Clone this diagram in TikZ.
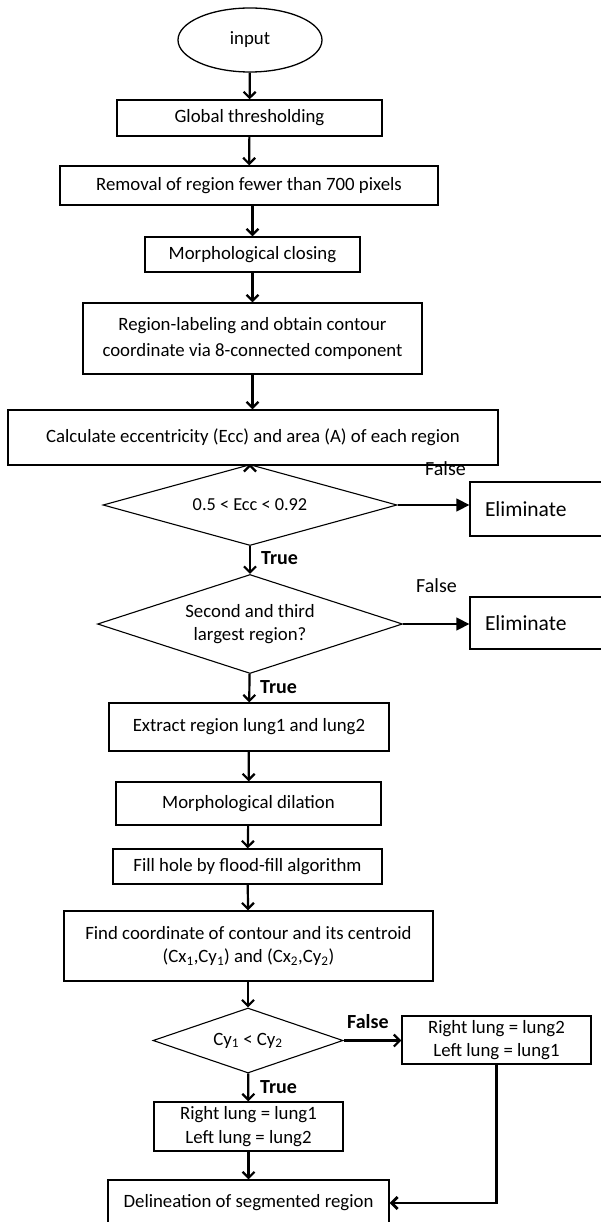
\documentclass[tikz,border=0pt]{standalone}
\usepackage{fontspec}
\setmainfont{Carlito}
\usetikzlibrary{arrows.meta,shapes.geometric}
\begin{document}
\begin{tikzpicture}[x=1pt,y=-1pt,
  every node/.style={inner sep=0pt, font=\fontsize{18.8}{23.5}\selectfont, align=center},
  proc/.style={draw, line width=1.3pt, rectangle},
  cond/.style={draw, line width=1.1pt, diamond, aspect=3.5},
  flow/.style={line width=2.2pt, -{Straight Barb[length=6pt,width=12pt,line width=2.2pt]}},
  reject/.style={line width=1.4pt, -{Triangle[length=13pt,width=13pt]}},
  elim/.style={proc, minimum width=150pt, font=\fontsize{21.5}{24}\selectfont, text width=128pt, align=left},
  tag/.style={font=\fontsize{20}{22}\selectfont, anchor=west},
  btag/.style={font=\fontsize{20}{22}\selectfont\bfseries, anchor=west}]
  \clip (0,0) rectangle (601,1222);

  % main column
  \node[draw, line width=1.3pt, ellipse, minimum width=144pt, minimum height=64pt] (inp) at (250,40) {input};
  \node[proc, minimum width=265pt, minimum height=36pt] (g) at (249.5,118) {Global thresholding};
  \node[proc, minimum width=378pt, minimum height=39pt] (rem) at (249,185.5) {Removal of region fewer than 700 pixels};
  \node[proc, minimum width=215pt, minimum height=35pt] (clos) at (252.5,254.5) {Morphological closing};
  \node[proc, minimum width=339pt, minimum height=71pt, font=\fontsize{18.8}{26}\selectfont] (lab) at (252.5,338.5) {Region-labeling and obtain contour\\coordinate via 8-connected component};
  \node[proc, minimum width=490pt, minimum height=55pt] (calc) at (253,437.5) {Calculate eccentricity (Ecc) and area (A) of each region};

  % first test
  \node[cond, minimum width=294pt, minimum height=81pt] (d1) at (250,505) {};
  \node[font=\fontsize{18.3}{20}\selectfont] at (d1.center) {0.5 < Ecc < 0.92};
  \node[elim, minimum height=54pt] (e1) at (545,509) {\hspace*{4pt}Eliminate};

  % second test
  \node[cond, minimum width=305pt, minimum height=99pt] (d2) at (250,624) {};
  \node at (d2.center) {Second and third\\largest region?};
  \node[elim, minimum height=52pt] (e2) at (545,623) {\hspace*{4pt}Eliminate};

  \node[proc, minimum width=280pt, minimum height=48pt] (ext) at (249,727) {Extract region lung1 and lung2};
  \node[proc, minimum width=265pt, minimum height=43pt] (dil) at (248.5,803.5) {Morphological dilation};
  \node[proc, minimum width=269pt, minimum height=35pt] (fill) at (247.5,866.5) {Fill hole by flood-fill algorithm};
  \node[proc, minimum width=369pt, minimum height=70pt] (find) at (248.5,946) {Find coordinate of contour and its centroid\\(Cx\textsubscript{1},Cy\textsubscript{1}) and (Cx\textsubscript{2},Cy\textsubscript{2})};

  % side test
  \node[cond, minimum width=190pt, minimum height=65pt, aspect=2.9] (d3) at (248,1040.5) {};
  \node at (d3.center) {Cy\textsubscript{1} < Cy\textsubscript{2}};
  \node[proc, minimum width=189pt, minimum height=48pt] (rb) at (496.5,1040) {Right lung = lung2\\Left lung = lung1};
  \node[proc, minimum width=189pt, minimum height=49pt] (lb) at (248.5,1126.5) {Right lung = lung1\\Left lung = lung2};
  \node[proc, minimum width=281pt, minimum height=46pt] (del) at (248.5,1203) {Delineation of segmented region};
  \coordinate (bend) at (rb.south |- del.east);

  % connectors
  \draw[flow] (inp) -- (g);
  \draw[flow] (g) -- (rem);
  \draw[flow] (rem.south -| clos.north) -- (clos);
  \draw[flow] (clos) -- (lab);
  \draw[flow] (lab) -- (calc.north -| lab.south);
  \draw[flow] (calc.south -| d1.north) -- (d1);
  \draw[flow] (d1) -- (d2);
  \draw[flow] (d2) -- (ext);
  \draw[flow] (ext) -- (dil);
  \draw[flow] (dil) -- (fill);
  \draw[flow] (fill) -- (find);
  \draw[flow] (find.south -| d3.north) -- (d3);
  \draw[flow] (d3) -- (lb);
  \draw[flow] (lb) -- (del);
  \draw[reject] (d1.east) -- (e1.west |- d1.east);
  \draw[reject] (d2.east) -- (e2.west |- d2.east);
  \draw[flow] (d3.east) -- (rb.west |- d3.east);
  \draw[line width=2.8pt, -{Straight Barb[length=6pt,width=12pt,line width=2.8pt]}] (rb.south) -- (bend) -- (del.east);

  % branch labels
  \node[tag] (f1) at (425,469) {False};
  \node[tag] (f2) at (416,586) {False};
  \node[btag] (f3) at (347,1022) {False};
  \node[btag] (t1) at (261,558) {True};
  \node[btag] (t2) at (260,687) {True};
  \node[btag] (t3) at (260,1087) {True};
\end{tikzpicture}
\end{document}
